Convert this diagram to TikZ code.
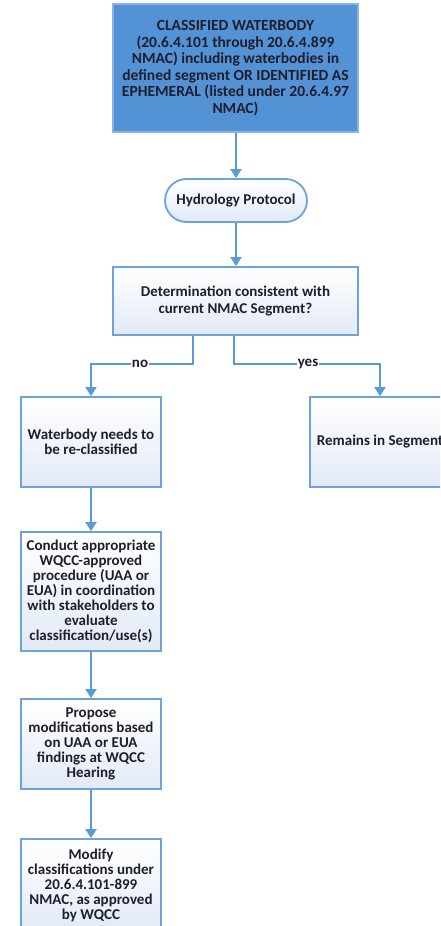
\documentclass[tikz,border=0pt]{standalone}
\usepackage{fontspec}
\setmainfont{Carlito}
\usetikzlibrary{arrows.meta,calc,shapes.misc}
\definecolor{lineblue}{RGB}{91,155,213}
\definecolor{boxedge}{RGB}{110,163,218}
\definecolor{topfill}{RGB}{84,146,214}
\definecolor{topedge}{RGB}{135,180,228}
\definecolor{palefill}{RGB}{226,234,246}
\definecolor{txt}{RGB}{30,30,45}
\tikzset{
  conn/.style={draw=lineblue, line width=2pt},
  arr/.style={conn, -{Triangle[width=11pt,length=9pt]}},
  lightbox/.style={draw=boxedge, line width=1.8pt, top color=white, bottom color=palefill,
     shading angle=0, minimum width=140pt, align=center, inner sep=0pt, text=txt,
     font=\bfseries\fontsize{15}{15}\selectfont},
  lbl/.style={fill=white, inner sep=1pt, text=txt, font=\bfseries\fontsize{15}{15}\selectfont}
}
\begin{document}
\begin{tikzpicture}[x=1pt,y=-1pt]
\useasboundingbox (0,0) rectangle (440,926);
\clip (0,0) rectangle (440,926);
\fill[white] (0,0) rectangle (440,926);
% top box
\node[draw=topedge, fill=topfill, line width=1.5pt, minimum width=245pt, minimum height=128pt,
  align=center, inner sep=0pt, text=txt, font=\bfseries\fontsize{15.5}{16.6}\selectfont]
  (top) at (235.5,68) {CLASSIFIED WATERBODY\\(20.6.4.101 through 20.6.4.899\\NMAC) including waterbodies in\\defined segment OR IDENTIFIED AS\\EPHEMERAL (listed under 20.6.4.97\\NMAC)};
% hydrology
\node[lightbox, rounded rectangle, minimum width=142pt, minimum height=43pt] (hyd) at (236,200.5) {Hydrology Protocol};
% decision
\node[lightbox, minimum width=245pt, minimum height=68pt, font=\bfseries\fontsize{15}{17}\selectfont] (dec) at (235.5,301) {Determination consistent with\\current NMAC Segment?};
% left column
\node[lightbox, minimum height=90pt] (wb) at (91,442) {Waterbody needs to\\be re-classified};
\node[lightbox, minimum height=90pt] (rem) at (380,442) {Remains in Segment};
\node[lightbox, minimum height=119pt] (con) at (91,591.5) {Conduct appropriate\\WQCC-approved\\procedure (UAA or\\EUA) in coordination\\with stakeholders to\\evaluate\\classification/use(s)};
\node[lightbox, minimum height=90pt] (pro) at (91,744) {Propose\\modifications based\\on UAA or EUA\\findings at WQCC\\Hearing};
\node[lightbox, minimum height=92pt] (mod) at (91,885) {Modify\\classifications under\\20.6.4.101-899\\NMAC, as approved\\by WQCC};
% connectors
\draw[arr] (top.south -| hyd.north) -- (hyd.north);
\draw[arr] (hyd.south) -- (hyd.south |- dec.north);
\coordinate (nostart) at ($(dec.south)+(-42.5,0)$);
\coordinate (yesstart) at ($(dec.south)+(-1.5,0)$);
\coordinate (nocorner) at ($(nostart)+(0,28)$);
\coordinate (yescorner) at ($(yesstart)+(0,28)$);
\draw[arr] (nostart) -- (nocorner) -- (nocorner -| wb.north) -- (wb.north);
\draw[arr] (yesstart) -- (yescorner) -- (yescorner -| rem.north) -- (rem.north);
\node[lbl] (no) at ($(nocorner)+(-53,0)$) {no};
\node[lbl] (yes) at ($(yescorner)+(74,0)$) {yes};
\draw[arr] (wb.south) -- (con.north);
\draw[arr] (con.south) -- (pro.north);
\draw[arr] (pro.south) -- (mod.north);
\end{tikzpicture}
\end{document}
